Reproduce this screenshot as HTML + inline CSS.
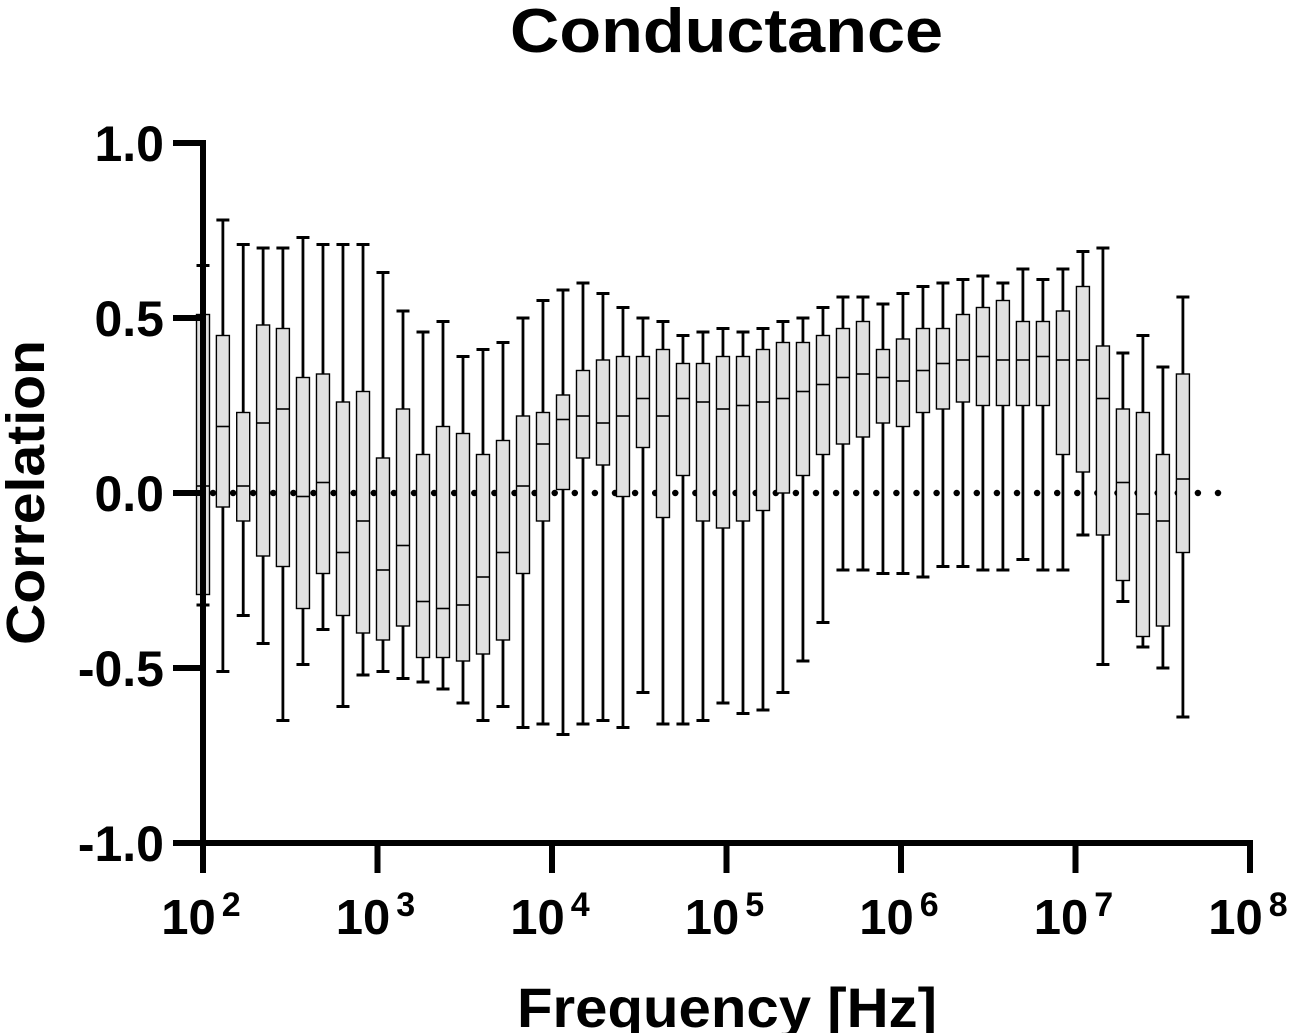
<!DOCTYPE html>
<html><head><meta charset="utf-8"><style>
html,body{margin:0;padding:0;background:#fff;}
svg{display:block;font-family:"Liberation Sans",Arial,sans-serif;font-weight:bold;}
</style></head><body>
<svg id="chart" width="1293" height="1033" viewBox="0 0 1293 1033" xmlns="http://www.w3.org/2000/svg">
<text x="510" y="52" font-size="62" textLength="433" lengthAdjust="spacingAndGlyphs">Conductance</text>
<text x="517" y="1027" font-size="56" textLength="420" lengthAdjust="spacingAndGlyphs">Frequency [Hz]</text>
<text transform="translate(44,645) rotate(-90)" font-size="54" textLength="305" lengthAdjust="spacingAndGlyphs">Correlation</text>
<g id="zero"></g>
<g id="boxes"></g>
<g id="axes"></g>
</svg>
<script>
const freqs=[100,130,170,221,287,374,487,634,826,1075,1400,1823,2373,3090,4022,5237,6819,8877,11560,15050,19590,25510,33210,43240,56300,73300,95440,124300,161800,210600,274200,357100,464900,605300,788100,1026000,1336000,1739000,2264000,2947000,3837000,4996000,6505000,8470000,11030000,14360000,18690000,24340000,31690000,41260000];
const whiskerMax=[0.65,0.78,0.71,0.70,0.70,0.73,0.71,0.71,0.71,0.63,0.52,0.46,0.49,0.39,0.41,0.43,0.50,0.55,0.58,0.60,0.57,0.53,0.50,0.49,0.45,0.46,0.47,0.46,0.47,0.49,0.50,0.53,0.56,0.56,0.54,0.57,0.59,0.60,0.61,0.62,0.60,0.64,0.61,0.64,0.69,0.70,0.40,0.45,0.36,0.56];
const q3=[0.51,0.45,0.23,0.48,0.47,0.33,0.34,0.26,0.29,0.10,0.24,0.11,0.19,0.17,0.11,0.15,0.22,0.23,0.28,0.35,0.38,0.39,0.39,0.41,0.37,0.37,0.39,0.39,0.41,0.43,0.43,0.45,0.47,0.49,0.41,0.44,0.47,0.47,0.51,0.53,0.55,0.49,0.49,0.52,0.59,0.42,0.24,0.23,0.11,0.34];
const medians=[0.02,0.19,0.02,0.20,0.24,-0.01,0.03,-0.17,-0.08,-0.22,-0.15,-0.31,-0.33,-0.32,-0.24,-0.17,0.02,0.14,0.21,0.22,0.20,0.22,0.27,0.22,0.27,0.26,0.24,0.25,0.26,0.27,0.29,0.31,0.33,0.34,0.33,0.32,0.35,0.37,0.38,0.39,0.38,0.38,0.39,0.38,0.38,0.27,0.03,-0.06,-0.08,0.04];
const q1=[-0.29,-0.04,-0.08,-0.18,-0.21,-0.33,-0.23,-0.35,-0.40,-0.42,-0.38,-0.47,-0.47,-0.48,-0.46,-0.42,-0.23,-0.08,0.01,0.10,0.08,-0.01,0.13,-0.07,0.05,-0.08,-0.10,-0.08,-0.05,0.00,0.05,0.11,0.14,0.16,0.20,0.19,0.23,0.24,0.26,0.25,0.25,0.25,0.25,0.11,0.06,-0.12,-0.25,-0.41,-0.38,-0.17];
const whiskerMin=[-0.32,-0.51,-0.35,-0.43,-0.65,-0.49,-0.39,-0.61,-0.52,-0.51,-0.53,-0.54,-0.56,-0.60,-0.65,-0.61,-0.67,-0.66,-0.69,-0.66,-0.65,-0.67,-0.57,-0.66,-0.66,-0.65,-0.60,-0.63,-0.62,-0.57,-0.48,-0.37,-0.22,-0.22,-0.23,-0.23,-0.24,-0.21,-0.21,-0.22,-0.22,-0.19,-0.22,-0.22,-0.12,-0.49,-0.31,-0.44,-0.50,-0.64];
const yTicks=[1.0,0.5,0.0,-0.5,-1.0];
const yTickLabels=["1.0","0.5","0.0","-0.5","-1.0"];
const xTickExps=[2,3,4,5,6,7,8];

const NS="http://www.w3.org/2000/svg";
const X0=203,X1=1250,Y0=843,Y1=143;
function xs(f){return X0+(Math.log10(f)-2)/6*(X1-X0);}
function ys(v){return Y0-(v+1)/2*(Y0-Y1);}
function mk(tag,attrs,parent){const e=document.createElementNS(NS,tag);for(const k in attrs)e.setAttribute(k,attrs[k]);parent.appendChild(e);return e;}

const zg=document.getElementById('zero');
const zl=mk('line',{x1:xs(freqs[0])+10,x2:1232,y1:ys(0),y2:ys(0),stroke:'#000','stroke-width':6.5,'stroke-linecap':'round','stroke-dasharray':'0 20.1'},zg);



const bg=document.getElementById('boxes');
for(let i=0;i<freqs.length;i++){
  const x=xs(freqs[i]);
  const g=mk('g',{},bg);
  
  
  mk('line',{x1:x,x2:x,y1:ys(whiskerMax[i]),y2:ys(whiskerMin[i]),stroke:'#000','stroke-width':2.8},g);
  mk('line',{x1:x-6.5,x2:x+6.5,y1:ys(whiskerMax[i]),y2:ys(whiskerMax[i]),stroke:'#000','stroke-width':3},g);
  mk('line',{x1:x-6.5,x2:x+6.5,y1:ys(whiskerMin[i]),y2:ys(whiskerMin[i]),stroke:'#000','stroke-width':3},g);
  mk('rect',{x:x-6.5,y:ys(q3[i]),width:13,height:ys(q1[i])-ys(q3[i]),fill:'#e0e0e0',stroke:'#000','stroke-width':1.4},g);
  mk('line',{x1:x-6.5,x2:x+6.5,y1:ys(medians[i]),y2:ys(medians[i]),stroke:'#000','stroke-width':1.6},g);
}

const ag=document.getElementById('axes');
const ya=mk('line',{x1:X0,x2:X0,y1:Y1-3,y2:Y0+3,stroke:'#000','stroke-width':6},ag);


const xa=mk('line',{x1:X0-3,x2:X1+3,y1:Y0,y2:Y0,stroke:'#000','stroke-width':6},ag);


yTicks.forEach((v,k)=>{
  const y=ys(v);
  const t=mk('line',{x1:173,x2:X0,y1:y,y2:y,stroke:'#000','stroke-width':6},ag);
  
  
  const l=mk('text',{x:164,y:y+18,'font-size':50,'text-anchor':'end'},ag);
  l.textContent=yTickLabels[k];
  
  
});
xTickExps.forEach(e=>{
  const x=xs(Math.pow(10,e));
  const t=mk('line',{x1:x,x2:x,y1:Y0,y2:873,stroke:'#000','stroke-width':6},ag);
  
  
  const l=mk('text',{x:x-2,y:934,'font-size':49,'text-anchor':'middle'},ag);
  
  
  const a=mk('tspan',{},l);a.textContent='10';
  const b=mk('tspan',{dx:6,dy:-18,'font-size':34},l);b.textContent=String(e);
});
</script>
</body></html>
